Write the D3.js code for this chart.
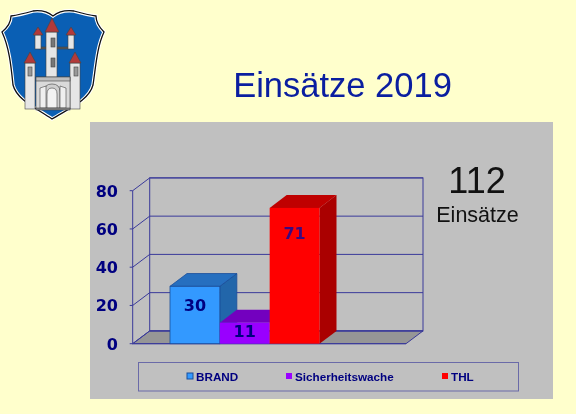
<!DOCTYPE html>
<html><head><meta charset="utf-8">
<script src="https://cdn.jsdelivr.net/npm/d3@7/dist/d3.min.js"></script>
<style>html,body{margin:0;padding:0;background:#FFFFCC}svg{display:block;filter:blur(.35px)}text{font-family:"Liberation Sans",Arial,sans-serif}</style>
</head><body><div id="c"></div>
<script>
const categories=["BRAND","Sicherheitswache","THL"];
const values=[30,11,71];
const ticks=[0,20,40,60,80];
const frontColors=["#3399FF","#9900FF","#FF0000"];
const topColors=["#266FBF","#7300BF","#BF0000"];
const sideColors=["#2266AA","#6600AA","#AA0000"];
const title="Einsätze 2019", totalValue="112", totalLabel="Einsätze";

const W=576,H=414,navy="#000080",wire="#3A3A9A",dejavu='"DejaVu Sans",Verdana,sans-serif';
const svg=d3.select("#c").append("svg").attr("width",W).attr("height",H);
svg.append("rect").attr("width",W).attr("height",H).attr("fill","#FFFFCC");
svg.append("rect").attr("x",90).attr("y",122).attr("width",463).attr("height",277).attr("fill","#C0C0C0");

// crest
const g=svg.append("g");
const shield="M2,32 C8,27 11,22 11,16 C18,15 26,13 33,11 C41,10 48,12 53,16 C58,12 66,10 74,11 C81,13 88,15 96,16 C96,22 99,27 104,32 C97,47 96,65 93,85 C89,100 70,108 52,119 C36,108 17,100 13,85 C11,65 9,47 2,32 Z";
g.append("path").attr("d",shield).attr("fill","#0A5FB4").attr("stroke","#fff").attr("stroke-width",3.4);
g.append("path").attr("d",shield).attr("fill","none").attr("stroke","#111").attr("stroke-width",1.3);
const wall="#E6E6E6",roof="#B23A3A",edge="#444";
const R=(x,y,w,h,f)=>g.append("rect").attr("x",x).attr("y",y).attr("width",w).attr("height",h).attr("fill",f||wall).attr("stroke",edge).attr("stroke-width",.6);
const P=(d,f,s)=>g.append("path").attr("d",d).attr("fill",f).attr("stroke",s||edge).attr("stroke-width",.6);
R(39,47,30,2,"#555");
R(35,35,6,14);R(68,35,6,14);
P("M33,35 L38,27 L43,35Z",roof);P("M66,35 L71,27 L76,35Z",roof);
R(25,63,10,46);R(70,63,10,46);
P("M24,63 L30,52 L36,63Z",roof);P("M69,63 L75,52 L81,63Z",roof);
R(46,32,11,46);
P("M45,32 L52,18 L59,32Z",roof);
R(36,77,34,32,"#DADADA");
R(36,77,34,4,"#BDBDBD");
R(51,38,4,9,"#777");R(51,58,4,9,"#777");
R(28,67,4,9,"#999");R(74,67,4,9,"#999");
P("M44,108 V92 Q44,84 52,84 Q60,84 60,92 V108Z","#CFCFCF");
P("M47,108 V94 Q47,88 52,88 Q57,88 57,94 V108Z","#F2F2F2");
P("M40,108 V88 L46,86 V108Z","#EFEFEF");
P("M60,108 V86 L66,88 V108Z","#EFEFEF");
R(36,108,34,2,"#888");

// titles
svg.append("text").attr("x",342.5).attr("y",97).attr("text-anchor","middle").attr("font-size",34.5).attr("fill","#0A1EA0").text(title);
svg.append("text").attr("x",477).attr("y",193).attr("text-anchor","middle").attr("font-size",36).attr("fill","#111").text(totalValue);
svg.append("text").attr("x",477.5).attr("y",222).attr("text-anchor","middle").attr("font-size",21.5).attr("fill","#111").text(totalLabel);

// chart
const y=d3.scaleLinear().domain([0,80]).range([343.7,190.7]);
const x=d3.scaleBand().domain(categories).range([170,319.5]).padding(0);
const dx=17,dy=-12.8,x0=132.7,x1=406;
// floor
svg.append("path").attr("d",`M${x0},${y(0)} L${x0+dx},${y(0)+dy} H${x1+dx} L${x1},${y(0)} Z`).attr("fill","#969696").attr("stroke",wire);
// back wall + grid
svg.append("rect").attr("x",x0+dx).attr("y",y(80)+dy).attr("width",x1-x0).attr("height",y(0)-y(80)).attr("fill","none").attr("stroke",wire);
svg.selectAll(".grid").data(ticks).join("path").attr("fill","none").attr("stroke",wire)
  .attr("d",t=>`M${x0},${y(t)} L${x0+dx},${y(t)+dy} H${x1+dx}`);
// left axis line and ticks
svg.append("path").attr("d",`M${x0},${y(0)} V${y(80)}`).attr("stroke",wire).attr("fill","none");
svg.selectAll(".tk").data(ticks).join("path").attr("stroke",wire).attr("d",t=>`M${x0-3},${y(t)} H${x0}`);
svg.append("path").attr("d",`M${x0},${y(0)} H${x1}`).attr("stroke",wire);
svg.selectAll(".tl").data(ticks).join("text").attr("x",118).attr("y",t=>y(t)+6).attr("text-anchor","end")
  .style("font-family",dejavu).attr("font-size",16).attr("font-weight","bold").attr("fill",navy).text(d=>d);

// bars
categories.forEach((c,i)=>{
  const v=values[i],l=x(c),r=l+x.bandwidth(),t=y(v),b=y(0);
  const G=svg.append("g");
  G.append("path").attr("d",`M${r},${b} L${r+dx},${b+dy} V${t+dy} L${r},${t} Z`).attr("fill",sideColors[i]);
  G.append("path").attr("d",`M${l},${t} L${l+dx},${t+dy} H${r+dx} L${r},${t} Z`).attr("fill",topColors[i]);
  G.append("rect").attr("x",l).attr("y",t).attr("width",x.bandwidth()).attr("height",b-t).attr("fill",frontColors[i]);
  if(i===0){G.selectAll("path,rect").attr("stroke","#1A4E9A").attr("stroke-width",.8);}
});
const labelDrop=[24.5,14,31];
values.forEach((v,i)=>{
  svg.append("text").attr("x",x(categories[i])+x.bandwidth()/2).attr("y",y(v)+labelDrop[i]).attr("text-anchor","middle")
   .style("font-family",dejavu).attr("font-size",16).attr("font-weight","bold").attr("fill",i===2?"#3A0A80":navy).text(v);
});

// legend
svg.append("rect").attr("x",138.5).attr("y",362.5).attr("width",380).attr("height",28.5).attr("fill","none").attr("stroke","#6A6AA8");
const lx=[187,286,442];
categories.forEach((c,i)=>{
  svg.append("rect").attr("x",lx[i]).attr("y",373).attr("width",6).attr("height",6).attr("fill",frontColors[i]).attr("stroke",i===0?"#1A4E9A":"none");
  svg.append("text").attr("x",lx[i]+9).attr("y",381).attr("font-size",11.7).attr("font-weight","bold").attr("fill",navy).text(c);
});
</script></body></html>
